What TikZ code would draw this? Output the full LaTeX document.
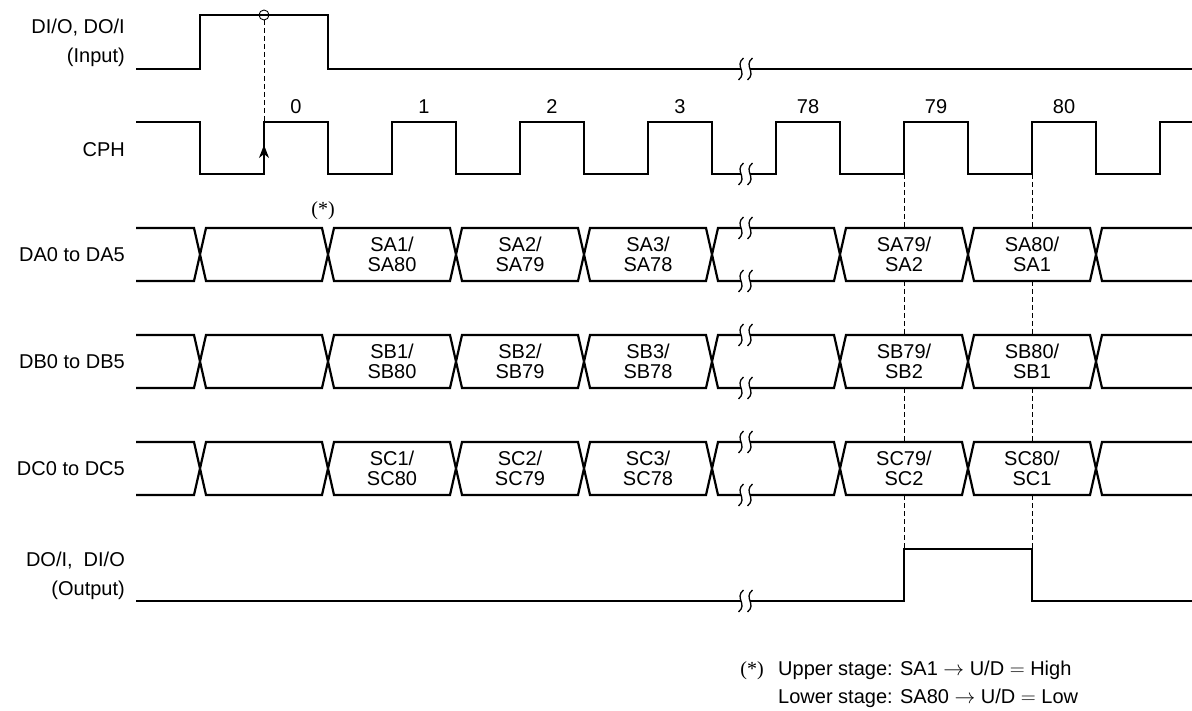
\documentclass[tikz,border=0pt]{standalone}
\usepackage{fontspec}
\setmainfont{Liberation Sans}
\newfontfamily\astfont{Liberation Serif}
\usetikzlibrary{arrows.meta}
\newcommand\brkmark[2]{\draw[brk] ({#1+2.5},{#2-11}) .. controls ({#1-7},{#2-3}) and ({#1+7},{#2+3}) .. ({#1-2.5},{#2+11});}
\newcommand\busrow[4]{%
  \pgfmathsetmacro\busM{(#2+#3)/2}
  \draw[sig] (136,#2) -- (194,#2) -- (200,\busM);
  \draw[sig] (136,#3) -- (194,#3) -- (200,\busM);
  \foreach \a/\b in {200/328,328/456,456/584,584/712,840/968,968/1096}{
    \draw[sig] (\a,\busM) -- (\a+6,#2) -- (\b-6,#2) -- (\b,\busM);
    \draw[sig] (\a,\busM) -- (\a+6,#3) -- (\b-6,#3) -- (\b,\busM);
  }
  \draw[sig] (712,\busM) -- (718,#2) -- (741,#2);
  \draw[sig] (750,#2) -- (834,#2) -- (840,\busM);
  \draw[sig] (712,\busM) -- (718,#3) -- (741,#3);
  \draw[sig] (750,#3) -- (834,#3) -- (840,\busM);
  \brkmark{741}{#2}\brkmark{750}{#2}\brkmark{741}{#3}\brkmark{750}{#3}
  \draw[sig] (1096,\busM) -- (1102,#2) -- (1192,#2);
  \draw[sig] (1096,\busM) -- (1102,#3) -- (1192,#3);
  \node[cell] (#1c1) at (392,\busM) {#11/\\#180};
  \node[cell] (#1c2) at (520,\busM) {#12/\\#179};
  \node[cell] (#1c3) at (648,\busM) {#13/\\#178};
  \node[cell] (#1c79) at (904,\busM) {#179/\\#12};
  \node[cell] (#1c80) at (1032,\busM) {#180/\\#11};
  \node[lbl] (#1lab) at (125,\busM) {#4};
}
\begin{document}
\begin{tikzpicture}[x=1pt,y=-1pt,
  sig/.style={line width=2.2pt},
  brk/.style={line width=1.3pt},
  guide/.style={line width=0.9pt, dash pattern=on 5pt off 3pt},
  lbl/.style={font=\fontsize{20}{24}\selectfont, anchor=east, inner sep=0pt},
  lblb/.style={font=\fontsize{20}{24}\selectfont, anchor=base east, inner sep=0pt},
  cell/.style={font=\fontsize{20}{20.5}\selectfont, align=center, inner sep=0pt},
  num/.style={font=\fontsize{20}{24}\selectfont, anchor=base, inner sep=0pt},
  note/.style={font=\fontsize{20}{24}\selectfont, anchor=base west, inner sep=0pt},
]
\useasboundingbox (0,0) rectangle (1192,711);

% DI/O, DO/I input
\node[lblb] (inl1) at (125,33.5) {DI/O, DO/I};
\node[lblb] (inl2) at (125,62.5) {(Input)};
\draw[sig] (136,69) -- (200,69) -- (200,15) -- (328,15) -- (328,69) -- (741,69);
\draw[sig] (750,69) -- (1192,69);
\brkmark{741}{69}\brkmark{750}{69}
\draw[line width=0.9pt] (264,15) circle (5pt);

% CPH
\node[lbl] (cphl) at (125,150) {CPH};
\draw[sig] (136,122) -- (200,122) -- (200,174) -- (264,174) -- (264,122) -- (328,122)
  -- (328,174) -- (392,174) -- (392,122) -- (456,122) -- (456,174) -- (520,174)
  -- (520,122) -- (584,122) -- (584,174) -- (648,174) -- (648,122) -- (712,122)
  -- (712,174) -- (741,174);
\draw[sig] (750,174) -- (776,174) -- (776,122) -- (840,122) -- (840,174) -- (904,174)
  -- (904,122) -- (968,122) -- (968,174) -- (1032,174) -- (1032,122) -- (1096,122)
  -- (1096,174) -- (1160,174) -- (1160,122) -- (1192,122);
\brkmark{741}{174}\brkmark{750}{174}
\draw[line width=1.2pt, -{Stealth[length=13pt,width=10pt,inset=4pt]}] (264,168) -- (264,145);
\draw[guide] (264,20) -- (264,122);

\node[num] (p0) at (296,114) {0};
\node[num] (p1) at (424,114) {1};
\node[num] (p2) at (552,114) {2};
\node[num] (p3) at (680,114) {3};
\node[num] (p78) at (808,114) {78};
\node[num] (p79) at (936,114) {79};
\node[num] (p80) at (1064,114) {80};

\node[font=\astfont\fontsize{20}{24}\selectfont, inner sep=0pt] (ast) at (323,211) {(*)};

% buses
\busrow{SA}{228}{281}{DA0 to DA5}
\busrow{SB}{335}{388}{DB0 to DB5}
\busrow{SC}{442}{495}{DC0 to DC5}

% guides at 79 and 80
\foreach \x in {904,1032}{
  \draw[guide] (\x,174) -- (\x,228);
  \draw[guide] (\x,281) -- (\x,335);
  \draw[guide] (\x,388) -- (\x,442);
  \draw[guide] (\x,495) -- (\x,549);
}

% output
\node[lblb] (outl1) at (125,566) {DO/I,\hspace{0.55em}DI/O};
\node[lblb] (outl2) at (125,595) {(Output)};
\draw[sig] (136,601) -- (741,601);
\draw[sig] (750,601) -- (904,601) -- (904,549) -- (1032,549) -- (1032,601) -- (1192,601);
\brkmark{741}{601}\brkmark{750}{601}

% footnote
\node[font=\astfont\fontsize{20}{24}\selectfont, anchor=base, inner sep=0pt] (fast) at (752,675) {(*)};
\node[note] (fn1) at (778,675) {Upper stage: SA1 $\rightarrow$ U/D $=$ High};
\node[note] (fn2) at (778,703) {Lower stage: SA80 $\rightarrow$ U/D $=$ Low};
\end{tikzpicture}
\end{document}
